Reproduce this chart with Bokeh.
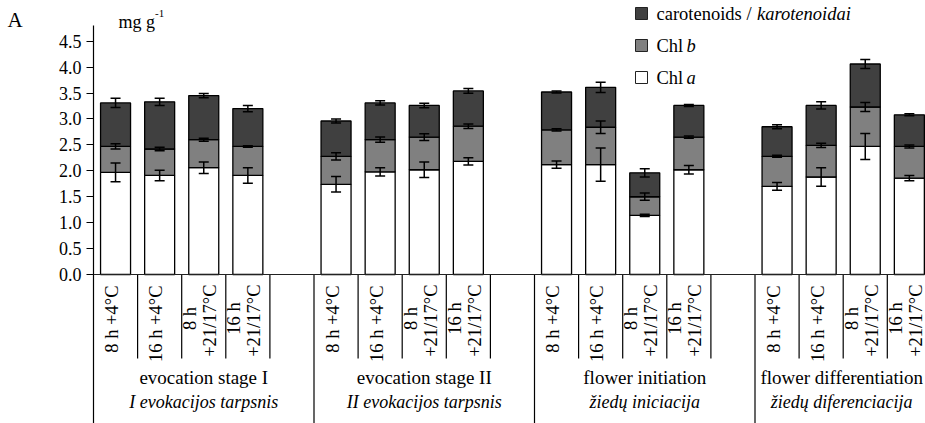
import numpy as np
from bokeh.plotting import figure
from bokeh.layouts import row
from bokeh.models import ColumnDataSource, Whisker, TeeHead, Span, FixedTicker, Range1d
from bokeh.core.properties import value
from bokeh.embed import file_html
from bokeh.resources import INLINE

# ---------------- data ----------------
stages = ["evocation stage I", "evocation stage II", "flower initiation", "flower differentiation"]
stages_lt = ["I evokacijos tarpsnis", "II evokacijos tarpsnis", "žiedų iniciacija", "žiedų diferenciacija"]
treat_line1 = ["8 h +4°C", "16 h +4°C", "8 h", "16 h"]
treat_line2 = ["", "", "+21/17°C", "+21/17°C"]

chl_a = [1.97, 1.91, 2.06, 1.91,  1.74, 1.98, 2.02, 2.18,  2.12, 2.12, 1.14, 2.02,  1.70, 1.88, 2.47, 1.86]
chl_b = [0.50, 0.51, 0.54, 0.56,  0.54, 0.62, 0.63, 0.68,  0.67, 0.72, 0.36, 0.63,  0.58, 0.61, 0.76, 0.61]
carot = [0.84, 0.91, 0.85, 0.73,  0.68, 0.71, 0.61, 0.68,  0.73, 0.77, 0.46, 0.61,  0.57, 0.77, 0.83, 0.61]

err_a   = [0.18, 0.10, 0.11, 0.15,  0.15, 0.08, 0.15, 0.07,  0.07, 0.32, 0.02, 0.08,  0.075, 0.18, 0.25, 0.05]
err_b   = [0.05, 0.035, 0.03, 0.015, 0.07, 0.05, 0.065, 0.045, 0.02, 0.12, 0.07, 0.02, 0.02, 0.04, 0.085, 0.03]
err_car = [0.09, 0.07, 0.04, 0.06,  0.04, 0.04, 0.045, 0.045, 0.02, 0.10, 0.08, 0.02,  0.04, 0.07, 0.085, 0.02]

y_ticks = [0.0, 0.5, 1.0, 1.5, 2.0, 2.5, 3.0, 3.5, 4.0, 4.5]
y_tick_labels = ["0.0", "0.5", "1.0", "1.5", "2.0", "2.5", "3.0", "3.5", "4.0", "4.5"]

legend_labels = [("carotenoids / ", "karotenoidai"), ("Chl ", "b"), ("Chl ", "a")]
y_unit = ("mg g", "-1")
panel_letter = "A"

# ---------------- layout ----------------
TOTAL_W, H = 925, 423
LEFT_W = 40                 # small side figure holding the panel letter
W = TOTAL_W - LEFT_W
AXIS_X = 93                 # page x of the y axis
FRAME_L = AXIS_X - LEFT_W
SLOT_PX = 44.1
PX_UNIT = 51.85
ZERO_PAGE_Y = 274
FONT = "Liberation Serif"

x_end = (TOTAL_W - AXIS_X) / SLOT_PX
y_end = ZERO_PAGE_Y / PX_UNIT
y_start = y_end - H / PX_UNIT


def dx(px):
    return (px - AXIS_X) / SLOT_PX


def dy(py):
    return (ZERO_PAGE_Y - py) / PX_UNIT


n_groups, n_per = 4, 4
slots_per_group = n_per + 1
x = [g * slots_per_group + j + 0.5 for g in range(n_groups) for j in range(n_per)]

a = np.array(chl_a)
b = np.array(chl_b)
c = np.array(carot)
top_a = a
top_b = a + b
top_c = a + b + c

src = ColumnDataSource(dict(
    x=x, top_a=top_a, top_b=top_b, top_c=top_c, zero=[0.0] * len(x),
    a_lo=top_a - np.array(err_a), a_hi=top_a + np.array(err_a),
    b_lo=top_b - np.array(err_b), b_hi=top_b + np.array(err_b),
    c_lo=top_c - np.array(err_car), c_hi=top_c + np.array(err_car),
))

p = figure(width=W, height=H, output_backend="svg", toolbar_location=None,
           x_range=Range1d(0, x_end), y_range=Range1d(y_start, y_end),
           x_axis_location=None, min_border_left=FRAME_L, min_border_right=0,
           min_border_top=0, min_border_bottom=0)
p.outline_line_color = None
p.grid.visible = False
p.background_fill_color = "white"
p.border_fill_color = "white"

# y axis
ax = p.yaxis[0]
ax.ticker = FixedTicker(ticks=y_ticks)
ax.major_label_overrides = {t: l for t, l in zip(y_ticks, y_tick_labels)}
ax.bounds = (y_start, dy(25))
ax.axis_line_color = "black"
ax.axis_line_width = 1.2
ax.major_tick_line_color = "black"
ax.major_tick_line_width = 1.2
ax.major_tick_in = 0
ax.major_tick_out = 7
ax.minor_tick_line_color = None
ax.major_label_standoff = 5
ax.major_label_text_font = FONT
ax.major_label_text_font_size = "18px"
ax.major_label_text_color = "black"

# x axis line at 0
p.add_layout(Span(location=0, dimension="width", line_color="#222222", line_width=1.2))

# bars
BW = 30 / SLOT_PX
common = dict(x="x", width=BW, source=src, line_color="black", line_width=1.3)
p.vbar(bottom="zero", top="top_a", fill_color="white", **common)
p.vbar(bottom="top_a", top="top_b", fill_color="#808080", **common)
p.vbar(bottom="top_b", top="top_c", fill_color="#404040", **common)

# error bars
for lo, hi in [("a_lo", "a_hi"), ("b_lo", "b_hi"), ("c_lo", "c_hi")]:
    p.add_layout(Whisker(base="x", lower=lo, upper=hi, source=src, level="overlay",
                         line_color="black", line_width=1.5,
                         upper_head=TeeHead(size=10, line_color="black", line_width=1.5),
                         lower_head=TeeHead(size=10, line_color="black", line_width=1.5)))

# category separators
total_slots = n_groups * slots_per_group
short_x = [s for s in range(1, total_slots) if s % slots_per_group != 0]
long_x = [s for s in range(1, total_slots) if s % slots_per_group == 0]
p.segment(x0=short_x, y0=[0] * len(short_x), x1=short_x, y1=[dy(358)] * len(short_x),
          line_color="black", line_width=1.2)
p.segment(x0=long_x, y0=[0] * len(long_x), x1=long_x, y1=[y_start] * len(long_x),
          line_color="black", line_width=1.2)

# treatment labels (rotated)
single_x, single_t = [], []
l1_x, l1_t, l2_x, l2_t = [], [], [], []
for g in range(n_groups):
    for j in range(n_per):
        s = g * slots_per_group + j
        if treat_line2[j]:
            l1_x.append(s + 8.5 / SLOT_PX); l1_t.append(treat_line1[j])
            l2_x.append(s + 28.5 / SLOT_PX); l2_t.append(treat_line2[j])
        else:
            single_x.append(s + 18.7 / SLOT_PX); single_t.append(treat_line1[j])

tstyle = dict(angle=np.pi / 2, text_font=value(FONT), text_font_size="18.5px",
              text_color="black", text_baseline="middle")
p.text(x=single_x, y=[dy(285)] * len(single_x), text=single_t, text_align="right", **tstyle)
p.text(x=l2_x, y=[dy(284)] * len(l2_x), text=l2_t, text_align="right", **tstyle)
p.text(x=l1_x, y=[dy(318)] * len(l1_x), text=l1_t, text_align="center", **tstyle)

# group labels
gx = [min(g * slots_per_group + 2.5, x_end - 1.9) for g in range(n_groups)]
gstyle = dict(text_font=value(FONT), text_color="black", text_align="center", text_baseline="middle")
p.text(x=gx, y=[dy(377)] * n_groups, text=stages, text_font_size="19px", **gstyle)
p.text(x=gx, y=[dy(401)] * n_groups, text=stages_lt, text_font_style=value("italic"),
       text_font_size="18px", **gstyle)

# legend (manual, for mixed italic)
leg_y = [dy(13), dy(45), dy(77)]
leg_colors = ["#404040", "#808080", "white"]
p.scatter(x=[dx(641)] * 3, y=leg_y, marker="square", size=12, fill_color=leg_colors,
          line_color="#222222", line_width=1)
lstyle = dict(text_font=value(FONT), text_font_size="18.5px", text_color="black",
              text_align="left", text_baseline="middle")
p.text(x=[dx(656)] * 3, y=leg_y, text=[l[0] for l in legend_labels], **lstyle)
p.text(x=[dx(756.5), dx(686), dx(686)], y=leg_y, text=[l[1] for l in legend_labels],
       text_font_style=value("italic"), **lstyle)

# unit label
p.text(x=[dx(118)], y=[dy(21)], text=[y_unit[0]], text_font=value(FONT), text_font_size="18px",
       text_align="left", text_baseline="middle", text_color="black")
p.text(x=[dx(154.5)], y=[dy(13)], text=[y_unit[1]], text_font=value(FONT), text_font_size="11px",
       text_align="left", text_baseline="middle", text_color="black")

# panel letter in a narrow side figure (pixel coordinates, y downward)
pa = figure(width=LEFT_W, height=H, output_backend="svg", toolbar_location=None,
            x_range=Range1d(0, LEFT_W), y_range=Range1d(H, 0),
            x_axis_location=None, y_axis_location=None,
            min_border_left=0, min_border_right=0, min_border_top=0, min_border_bottom=0)
pa.outline_line_color = None
pa.grid.visible = False
pa.text(x=[7], y=[19], text=[panel_letter], text_font=value(FONT), text_font_size="21px",
        text_align="left", text_baseline="middle", text_color="black")

layout = row(pa, p, spacing=0)
open("out.html", "w").write(file_html(layout, INLINE))
